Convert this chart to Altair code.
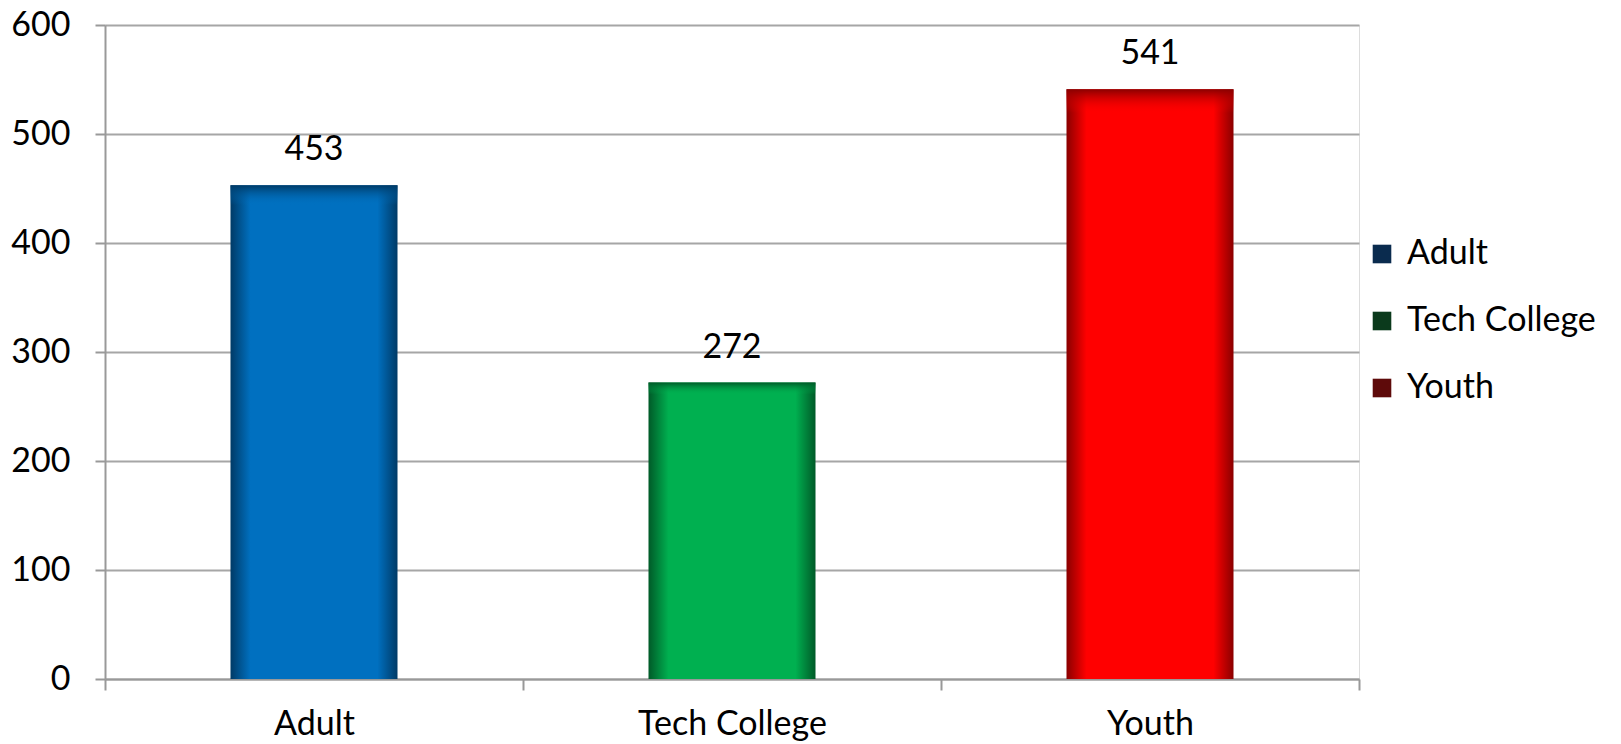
import altair as alt
import pandas as pd

categories = ["Adult", "Tech College", "Youth"]
values = [453, 272, 541]
bar_colors = ["#0070C0", "#00B050", "#FF0000"]
edge_colors = ["#003A66", "#005A28", "#8A0000"]
legend_colors = ["#0A2B4E", "#0B3A1C", "#5E0A0A"]

df = pd.DataFrame({"category": categories, "value": values})

FONT = "Lato"
FS = 34

x_enc = alt.X("category:N", sort=categories, title=None,
              scale=alt.Scale(paddingInner=0, paddingOuter=0),
              axis=alt.Axis(labelAngle=0, tickBand="extent", tickSize=11,
                            labelFontSize=FS, labelPadding=17, labelColor="black",
                            labelLimit=500,
                            domainColor="#999999", domainWidth=2,
                            tickColor="#999999", tickWidth=2, grid=False, labelFont=FONT))
y_enc = alt.Y("value:Q", title=None,
              scale=alt.Scale(domain=[0, 600]),
              axis=alt.Axis(values=[0, 100, 200, 300, 400, 500, 600], tickSize=10,
                            labelFontSize=FS, labelPadding=25, labelColor="black",
                            domainColor="#999999", domainWidth=2,
                            tickColor="#999999", tickWidth=2,
                            grid=True, gridColor="#A6A6A6", gridWidth=2, labelFont=FONT))

base = alt.Chart(df)

layers = []
for cat, bright, edge in zip(categories, bar_colors, edge_colors):
    grad_h = alt.LinearGradient(
        gradient="linear", x1=0, x2=1, y1=0, y2=0,
        stops=[alt.GradientStop(color=edge, offset=0),
               alt.GradientStop(color=bright, offset=0.12),
               alt.GradientStop(color=bright, offset=0.88),
               alt.GradientStop(color=edge, offset=1)])
    grad_v = alt.LinearGradient(
        gradient="linear", x1=0, x2=0, y1=0, y2=1,
        stops=[alt.GradientStop(color=edge, offset=0),
               alt.GradientStop(color=bright + "00", offset=0.04),
               alt.GradientStop(color=bright + "00", offset=1)])
    layers.append(base.transform_filter(alt.datum.category == cat)
                  .mark_bar(color=grad_h, size=167).encode(x=x_enc, y=y_enc))
    layers.append(base.transform_filter(alt.datum.category == cat)
                  .mark_bar(color=grad_v, size=167).encode(x=x_enc, y=y_enc))

labels = base.mark_text(baseline="bottom", dy=-18, fontSize=FS, font=FONT, color="black").encode(
    x=x_enc, y=y_enc, text="value:Q")

legend_layer = base.mark_square(opacity=0, size=1).encode(
    x=x_enc, y=alt.Y("value:Q", title=None),
    color=alt.Color("category:N", sort=categories,
                    scale=alt.Scale(domain=categories, range=legend_colors),
                    legend=alt.Legend(title=None, orient="none", legendX=1260, legendY=212,
                                      symbolType="square", symbolSize=346, symbolOpacity=1,
                                      symbolStrokeWidth=0, labelFontSize=FS, labelFont=FONT,
                                      labelColor="black", labelOffset=8, rowPadding=33,
                                      labelLimit=300)))

chart = alt.layer(*layers, labels, legend_layer).properties(
    width=1254, height=654,
    padding={"left": 97, "top": 17, "right": 250, "bottom": 75},
    autosize=alt.AutoSizeParams(type="none"),
).configure_view(stroke=None).configure(background="white")

chart.save("out.html", embed_options={"renderer": "svg", "actions": False})
